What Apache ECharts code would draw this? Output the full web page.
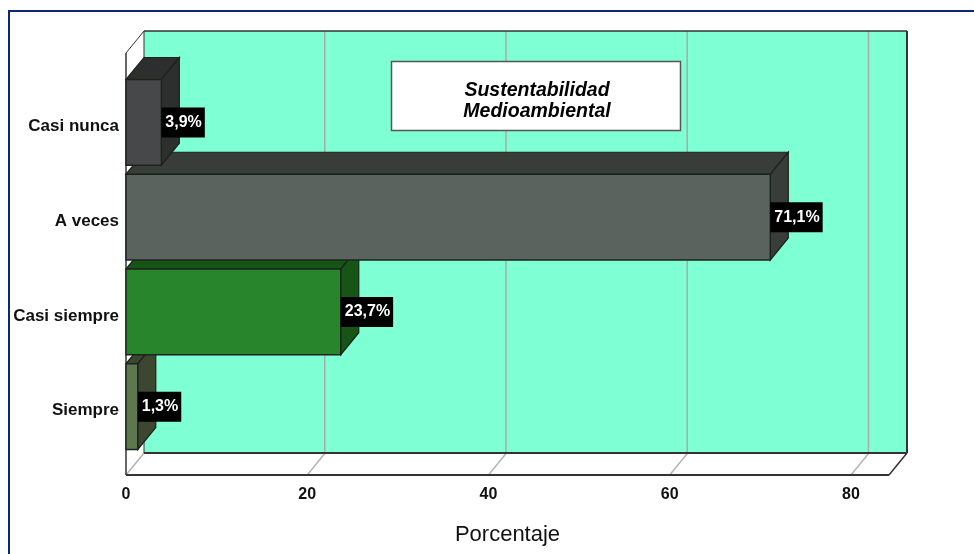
<!DOCTYPE html>
<html><head><meta charset="utf-8">
<style>html,body{margin:0;padding:0;background:#fff}#c{width:974px;height:554px}</style>
<script src="https://cdn.jsdelivr.net/npm/echarts@6/dist/echarts.min.js"></script>
</head><body><div id="c"></div>
<script>
const categories = ['Siempre', 'Casi siempre', 'A veces', 'Casi nunca'];
const values = [1.3, 23.7, 71.1, 3.9];
const frontColors = ['#5E774F', '#29852B', '#5A635D', '#46484A'];
const sideColors = ['#3D4630', '#175517', '#383D39', '#2D2F2E'];
const wallTicks = [0, 20, 40, 60, 80];
const axisMax = 84.2;
const titleLines = ['Sustentabilidad', 'Medioambiental'];
const axisTitle = 'Porcentaje';

const DX = 18, DY = -22;
const FONT = '"Liberation Sans", Arial, sans-serif';
const chart = echarts.init(document.getElementById('c'), null, {renderer: 'canvas'});

function poly(points, fill, stroke, lw) {
  return {type: 'polygon', shape: {points}, style: {fill, stroke: stroke || 'none', lineWidth: lw || 1}};
}
function line(x1, y1, x2, y2, stroke, lw) {
  return {type: 'line', shape: {x1, y1, x2, y2}, style: {stroke, lineWidth: lw || 1, fill: 'none'}};
}

function renderFrame(params, api) {
  const cs = params.coordSys;
  const x0 = cs.x, xR = cs.x + cs.width;
  const yF = cs.y + cs.height + 21, yT = cs.y - 22;
  const els = [];
  const frameDark = '#333333';
  els.push(poly([[x0 + DX, yT + DY], [xR + DX, yT + DY], [xR + DX, yF + DY], [x0 + DX, yF + DY]], '#7FFFD4'));
  els.push(poly([[x0, yT], [x0 + DX, yT + DY], [x0 + DX, yF + DY], [x0, yF]], '#FFFFFF'));
  els.push(poly([[x0, yF], [x0 + DX, yF + DY], [xR + DX, yF + DY], [xR, yF]], '#FFFFFF'));
  wallTicks.forEach(t => {
    const x = api.coord([t, 0])[0];
    if (t > 0) els.push(line(x + DX - 0.5, yT + DY, x + DX - 0.5, yF + DY, '#ABABAB', 1.5));
    els.push(line(x, yF, x + DX, yF + DY, '#B4B4B4', 1.5));
  });
  els.push(line(x0 + DX, yT + DY, xR + DX, yT + DY, frameDark, 1.5));
  els.push(line(xR + DX, yT + DY, xR + DX, yF + DY, frameDark, 2));
  els.push(line(x0 + DX, yF + DY, xR + DX, yF + DY, frameDark, 2));
  els.push(line(x0 + DX, yT + DY, x0 + DX, yF + DY, frameDark, 1));
  els.push(line(x0, yT, x0 + DX, yT + DY, frameDark, 1));
  els.push(line(x0, yT, x0, yF, frameDark, 1.5));
  els.push(line(x0, yF, xR, yF, frameDark, 2));
  els.push(line(xR, yF, xR + DX, yF + DY, frameDark, 1.5));
  return {type: 'group', children: els};
}

function renderBar(params, api) {
  const i = api.value(2);
  const v = api.value(0);
  const c = api.coord([v, api.value(1)]);
  const base = api.coord([0, api.value(1)])[0];
  const h = api.size([0, 1])[1] * 0.905;
  const yT = c[1] - h / 2, yB = c[1] + h / 2, xE = c[0];
  const edge = '#1B241C';
  return {type: 'group', children: [
    poly([[base, yT], [base + DX, yT + DY], [xE + DX, yT + DY], [xE, yT]], sideColors[i], edge, 1.2),
    poly([[xE, yT], [xE + DX, yT + DY], [xE + DX, yB + DY], [xE, yB]], sideColors[i], edge, 1.2),
    {type: 'rect', shape: {x: base, y: yT, width: xE - base, height: yB - yT},
      style: {fill: frontColors[i], stroke: edge, lineWidth: 1.4}}
  ]};
}

function renderLabel(params, api) {
  const c = api.coord([api.value(0), api.value(1)]);
  const txt = String(api.value(0).toFixed(1)).replace('.', ',') + '%';
  return {type: 'text', x: c[0], y: c[1], z2: 50, style: {
    text: txt, fill: '#FFFFFF', font: 'bold 16px ' + FONT,
    backgroundColor: '#000000', padding: [6, 3, 7, 4], lineHeight: 17,
    align: 'left', verticalAlign: 'middle'
  }};
}

const barData = values.map((v, i) => [v, i, i]);

chart.setOption({
  animation: false,
  backgroundColor: '#FFFFFF',
  grid: {left: 126, top: 75, width: 763, height: 379, containLabel: false},
  xAxis: {
    type: 'value', min: 0, max: axisMax, interval: 20,
    splitLine: {show: false}, axisLine: {show: false}, axisTick: {show: false},
    axisLabel: {margin: 33, color: '#111', fontFamily: FONT, fontWeight: 'bold', fontSize: 16, showMaxLabel: false, showMinLabel: true},
    name: axisTitle, nameLocation: 'middle', nameGap: 70,
    nameTextStyle: {color: '#111', fontFamily: FONT, fontSize: 22}
  },
  yAxis: {
    type: 'category', data: categories,
    axisLine: {show: false}, axisTick: {show: false}, splitLine: {show: false},
    axisLabel: {margin: 7, color: '#111', fontFamily: FONT, fontWeight: 'bold', fontSize: 17, verticalAlign: 'top', lineHeight: 8}
  },
  graphic: [
    {type: 'rect', z: 0, silent: true, shape: {x: 9, y: 11, width: 1000, height: 600},
      style: {fill: 'none', stroke: '#0A2A6E', lineWidth: 2}},
    {type: 'rect', z: 20, silent: true, shape: {x: 391.5, y: 61.5, width: 289, height: 69},
      style: {fill: '#FFFFFF', stroke: '#555555', lineWidth: 1.5}},
    {type: 'text', z: 21, silent: true, x: 537, y: 101, style: {
      text: titleLines.join('\n'), fill: '#000', font: 'italic bold 19.5px ' + FONT,
      lineHeight: 20.5, align: 'center', verticalAlign: 'middle'}}
  ],
  series: [
    {type: 'custom', coordinateSystem: 'cartesian2d', z: 1, clip: false, silent: true,
      renderItem: renderFrame, data: [[0, 0]], encode: {x: 0, y: 1}},
    {type: 'custom', coordinateSystem: 'cartesian2d', z: 2, clip: false, silent: true,
      renderItem: renderBar, data: barData, encode: {x: 0, y: 1}},
    {type: 'custom', coordinateSystem: 'cartesian2d', z: 3, clip: false, silent: true,
      renderItem: renderLabel, data: barData, encode: {x: 0, y: 1}}
  ]
});
</script></body></html>
